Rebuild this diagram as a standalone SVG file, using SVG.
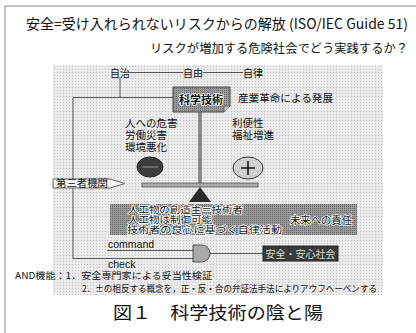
<svg xmlns="http://www.w3.org/2000/svg" width="416" height="333" viewBox="0 0 416 333">
<defs>
<style>
.jp{font-family:"Noto Sans CJK JP","Liberation Sans",sans-serif;fill:#111}
.en{font-family:"Liberation Sans","Noto Sans CJK JP",sans-serif;fill:#111}
.ln{stroke:#555;stroke-width:1;fill:none}
.halo{stroke:#fff;stroke-width:1.5;paint-order:stroke;stroke-linejoin:round}
</style>
<pattern id="dots" width="3" height="3" patternUnits="userSpaceOnUse">
<rect width="3" height="3" fill="#ebebeb"/>
<rect width="1" height="1" fill="#c4c4c4"/>
</pattern>
<pattern id="dotsDark" width="2" height="2" patternUnits="userSpaceOnUse">
<rect width="2" height="2" fill="#9a9a9a"/>
<rect width="1" height="1" fill="#6a6a6a"/>
</pattern>
</defs>
<rect width="416" height="333" fill="#fff"/>
<path d="M5,333 V6 H416" fill="none" stroke="#888" stroke-width="1"/>
<rect x="53" y="65" width="330" height="230" fill="url(#dots)"/>

<g id="title">
<text class="jp" x="26" y="29" font-size="14" textLength="382" lengthAdjust="spacingAndGlyphs">安全=受け入れられないリスクからの解放 (ISO/IEC Guide 51)</text>
<text class="jp" x="150" y="53" font-size="12" textLength="258" lengthAdjust="spacingAndGlyphs">リスクが増加する危険社会でどう実践するか？</text>
</g>

<g id="connectors">
<line class="ln" x1="130" y1="72.5" x2="183" y2="72.5"/>
<line class="ln" x1="203" y1="72.5" x2="243" y2="72.5"/>
<polyline class="ln" points="120,77 120,97.5 73,97.5 73,258.5 195,258.5"/>
<line class="ln" x1="120" y1="97.5" x2="173" y2="97.5"/>
<line class="ln" x1="107" y1="250.5" x2="195" y2="250.5"/>
<line class="ln" x1="210" y1="253.5" x2="263" y2="253.5"/>
<rect x="198.5" y="112" width="3" height="72" fill="#888" stroke="#666" stroke-width="0.5"/>
</g>

<g id="autonomy">
<text class="jp" x="110" y="77" font-size="10">自治</text>
<text class="jp" x="183" y="77" font-size="10">自由</text>
<text class="jp" x="243" y="77" font-size="10">自律</text>
</g>

<g id="science">
<path d="M173,87 H230 V106 L224,112 H173 Z" fill="url(#dotsDark)" stroke="#444" stroke-width="1"/>
<path d="M230,106 L224,106 L224,112" fill="#ccc" stroke="#444" stroke-width="0.8"/>
<text class="jp halo" x="201" y="104" font-size="11" text-anchor="middle" font-weight="bold">科学技術</text>
</g>
<g id="industrial">
<text class="jp" x="238" y="102" font-size="10.5" textLength="95" lengthAdjust="spacingAndGlyphs">産業革命による発展</text>
</g>

<g id="harm">
<text class="jp" x="125" y="127" font-size="10.5">人への危害</text>
<text class="jp" x="125" y="139" font-size="10.5">労働災害</text>
<text class="jp" x="125" y="151" font-size="10.5">環境悪化</text>
</g>
<g id="minus">
<ellipse cx="150" cy="167" rx="13" ry="10" fill="#3c3c3c" stroke="#222"/>
<line x1="142" y1="167" x2="158" y2="167" stroke="#777" stroke-width="1.5"/>
</g>
<g id="benefit">
<text class="jp" x="232" y="127" font-size="10.5">利便性</text>
<text class="jp" x="232" y="139" font-size="10.5">福祉増進</text>
</g>
<g id="plus">
<ellipse cx="248" cy="168" rx="15" ry="11" fill="#d0d0d0" stroke="#333"/>
<path d="M241,168 H255 M248,161 V175" stroke="#111" stroke-width="1.6"/>
</g>

<g id="balance">
<rect x="142" y="183" width="116" height="4" fill="#aaa" stroke="#555" stroke-width="0.8"/>
<path d="M200,187 L211,202 H189 Z" fill="#2a2a2a"/>
</g>

<g id="third-party">
<path d="M53,179 H110 L125,183.5 L110,188 H53 Z" fill="#f4f4f4" stroke="#666" stroke-width="1"/>
<text class="jp" x="56" y="187" font-size="10" textLength="52" lengthAdjust="spacingAndGlyphs">第三者機関</text>
</g>

<g id="engineer">
<rect x="110" y="204" width="247" height="31" fill="url(#dotsDark)"/>
<text class="jp halo" x="128" y="213" font-size="9" textLength="115" lengthAdjust="spacingAndGlyphs">人工物の創造主＝技術者</text>
<text class="jp halo" x="128" y="223" font-size="9" textLength="84" lengthAdjust="spacingAndGlyphs">人工物は制御可能</text>
<text class="jp halo" x="127" y="233" font-size="9" textLength="155" lengthAdjust="spacingAndGlyphs">技術者の良心に基づく自律活動</text>
<text class="jp halo" x="290" y="224" font-size="10.5" textLength="62" lengthAdjust="spacingAndGlyphs">未来への責任</text>
</g>

<g id="and-gate">
<path d="M193,245 H201.5 A8.5,8.5 0 0 1 201.5,262 H193 Z" fill="#a8a8a8" stroke="#555" stroke-width="1"/>
</g>
<g id="command">
<text class="en" x="108" y="247.5" font-size="10.5">command</text>
</g>
<g id="check">
<text class="en" x="108" y="268" font-size="10.5">check</text>
</g>
<g id="safe-society">
<rect x="263" y="246" width="75" height="15" fill="#3a3a3a" stroke="#222"/>
<text class="jp" x="300.5" y="257.5" font-size="10" text-anchor="middle" style="fill:#ddd">安全・安心社会</text>
</g>

<g id="notes">
<text class="jp" x="15" y="279" font-size="9.5" textLength="197" lengthAdjust="spacingAndGlyphs">AND機能：1．安全専門家による妥当性検証</text>
<text class="jp" x="82" y="292" font-size="9" textLength="295" lengthAdjust="spacingAndGlyphs">2．±の相反する概念を，正・反・合の弁証法手法によりアウフヘーベンする</text>
</g>
<g id="caption">
<text class="jp" x="113" y="319" font-size="17.5" textLength="210" lengthAdjust="spacingAndGlyphs">図１　科学技術の陰と陽</text>
</g>
</svg>
